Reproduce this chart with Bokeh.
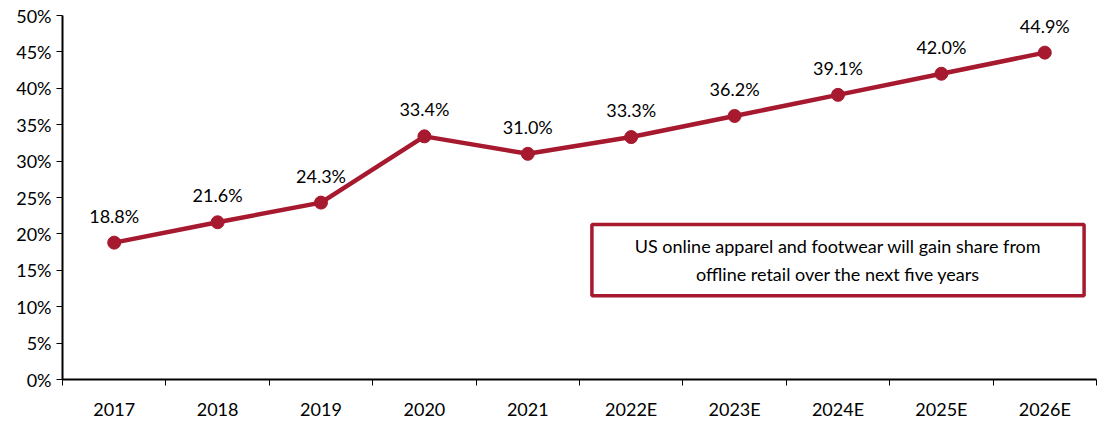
from bokeh.plotting import figure
from bokeh.models import ColumnDataSource, FixedTicker, NumeralTickFormatter, BoxAnnotation, Label, Range1d
from bokeh.core.properties import value
from bokeh.embed import file_html
from bokeh.resources import INLINE

categories = ["2017", "2018", "2019", "2020", "2021", "2022E", "2023E", "2024E", "2025E", "2026E"]
share = [18.8, 21.6, 24.3, 33.4, 31.0, 33.3, 36.2, 39.1, 42.0, 44.9]
labels = [f"{v:.1f}%" for v in share]
note = "US online apparel and footwear will gain share from\noffline retail over the next five years"

RED = "#A6192E"
FONT = "Lato"
FS = "18px"

xpos = [i + 0.5 for i in range(len(categories))]
src = ColumnDataSource(dict(x=xpos, y=[v / 100 for v in share], lab=labels))

p = figure(width=1106, height=422, output_backend="svg", toolbar_location=None,
           x_range=Range1d(0, len(categories)), y_range=Range1d(0, 0.5),
           min_border_left=62, min_border_right=10, min_border_top=15, min_border_bottom=41)
p.outline_line_color = None
p.grid.grid_line_color = None
p.background_fill_color = "white"
p.border_fill_color = "white"

p.line("x", "y", source=src, line_color=RED, line_width=4.5)
p.scatter("x", "y", source=src, size=13, fill_color=RED, line_color=RED)
p.text("x", "y", text="lab", source=src, text_align="center", text_baseline="bottom",
       y_offset=-16, text_font=value(FONT), text_font_size=FS, text_color="black")

# x axis: labels at category centres, ticks at boundaries
p.xaxis.ticker = FixedTicker(ticks=xpos, minor_ticks=list(range(len(categories) + 1)))
p.xaxis.major_label_overrides = {x: c for x, c in zip(xpos, categories)}
p.xaxis.major_tick_out = 0
p.xaxis.major_tick_in = 0
p.xaxis.minor_tick_out = 6
p.xaxis.minor_tick_in = 0
p.xaxis.minor_tick_line_color = "black"
p.xaxis.axis_line_color = "black"
p.xaxis.axis_line_width = 2
p.xaxis.major_label_text_font = FONT
p.xaxis.major_label_text_font_size = FS
p.xaxis.major_label_text_color = "black"
p.xaxis.major_label_standoff = 12

p.yaxis.ticker = FixedTicker(ticks=[i * 0.05 for i in range(11)])
p.yaxis.formatter = NumeralTickFormatter(format="0%")
p.yaxis.minor_tick_line_color = None
p.yaxis.major_tick_out = 6
p.yaxis.major_tick_in = 0
p.yaxis.axis_line_color = "black"
p.yaxis.axis_line_width = 2
p.yaxis.major_tick_line_color = "black"
p.yaxis.major_label_text_font = FONT
p.yaxis.major_label_text_font_size = FS
p.yaxis.major_label_text_color = "black"
p.yaxis.major_label_standoff = 5

box = BoxAnnotation(left=5.12, right=9.88, bottom=0.115, top=0.213,
                    fill_color="white", fill_alpha=1, line_color=RED, line_alpha=1, line_width=3.5)
p.add_layout(box)
p.add_layout(Label(x=7.5, y=0.164, text=note, text_align="center", text_baseline="middle",
                   text_font=FONT, text_font_size=FS, text_color="black", text_line_height=1.3))

open("out.html", "w").write(file_html(p, INLINE))
